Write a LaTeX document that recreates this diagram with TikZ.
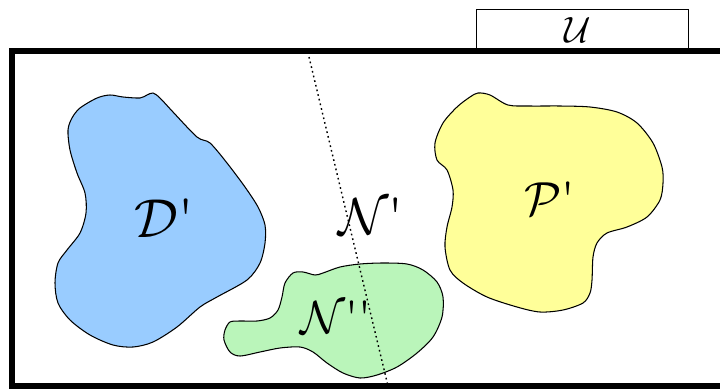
\documentclass[tikz,border=0pt]{standalone}
\usepackage{xcolor}
\usepackage{tikz}
\definecolor{setblue}{RGB}{153, 204, 255}
\definecolor{setyellow}{RGB}{255, 255, 153}
\definecolor{setgreen}{RGB}{186, 245, 186}

\tikzset{
    blob/.style={draw=black, line width=0.75pt},
    setlabel/.style={inner sep=0pt, text=black}
}
\newcommand{\biglabel}[2]{\scalebox{#1}{#2}}

\begin{document}
\begin{tikzpicture}[x=0.025cm, y=-0.025cm]
\useasboundingbox (0,0) rectangle (720,388);

% Tab of the universe
\node[draw, line width=0.6pt, minimum width=5.3cm, minimum height=1.05cm, inner sep=0pt] (utab) at (582,30) {};
\node[setlabel] (ulabel) at (578,30) {\biglabel{2.6}{$\mathcal{U}$}};

% Frame of the universe
\begin{scope}
    \clip (0,0) rectangle (720,388);
    \draw[line width=4.2pt] (12,51) rectangle (760,386);
\end{scope}

% Set D' (blue)
\draw[blob, fill=setblue] plot[smooth cycle, tension=0.5] coordinates {
    (153,93) (160,98) (173,112) (197,137) (210,143) (227,163) (245,187)
    (258,207) (265,225) (265,243) (260,263) (247,280) (217,297) (200,307)
    (177,327) (153,342) (133,347) (113,345) (90,335) (70,320) (58,303)
    (55,283) (58,263) (67,250) (80,233) (86,213) (85,193) (77,173)
    (70,150) (68,130) (72,118) (80,108) (97,98) (110,95) (123,97)
    (140,98) (147,95)
};

% Set P' (yellow)
\draw[blob, fill=setyellow] plot[smooth cycle, tension=0.5] coordinates {
    (470,97) (478,93) (490,95) (508,105) (530,106) (560,106) (590,107)
    (617,112) (637,123) (653,143) (662,167) (663,183) (660,200) (647,217)
    (627,227) (607,233) (597,243) (593,257) (592,280) (590,293) (583,303)
    (563,310) (540,312) (517,307) (487,297) (463,283) (450,270) (445,247)
    (447,227) (452,207) (453,190) (447,170) (437,160) (435,143) (443,123)
    (457,107)
};

% Set N'' (green)
\draw[blob, fill=setgreen] plot[smooth cycle, tension=0.5] coordinates {
    (225,330) (230,322) (240,321) (257,321) (270,318) (278,310) (282,297)
    (285,283) (293,273) (303,272) (315,275) (323,273) (340,267) (360,264)
    (383,263) (407,264) (423,270) (437,282) (443,297) (442,317) (433,337)
    (417,353) (397,367) (377,375) (360,378) (343,373) (327,363) (313,352)
    (300,347) (280,348) (260,352) (240,356) (230,352) (224,340)
};

% Dividing line
\coordinate (cuttop) at (309,57);
\coordinate (cutbot) at (388,386);
\draw[line width=1pt, dash pattern=on 1.2pt off 2.2pt] (cuttop) -- (cutbot);

% Labels
\node[setlabel] (dlabel) at (164,218) {\biglabel{3.9}{$\mathcal{D}$\textquotesingle}};
\node[setlabel] (plabel) at (550,199) {\biglabel{3.4}{$\mathcal{P}$\textquotesingle}};
\node[setlabel] (nlabel) at (371,216) {\biglabel{3.7}{$\mathcal{N}$\textquotesingle}};
\node[setlabel] (nnlabel) at (336,317) {\biglabel{3.3}{$\mathcal{N}$\textquotesingle\textquotesingle}};
\end{tikzpicture}
\end{document}
